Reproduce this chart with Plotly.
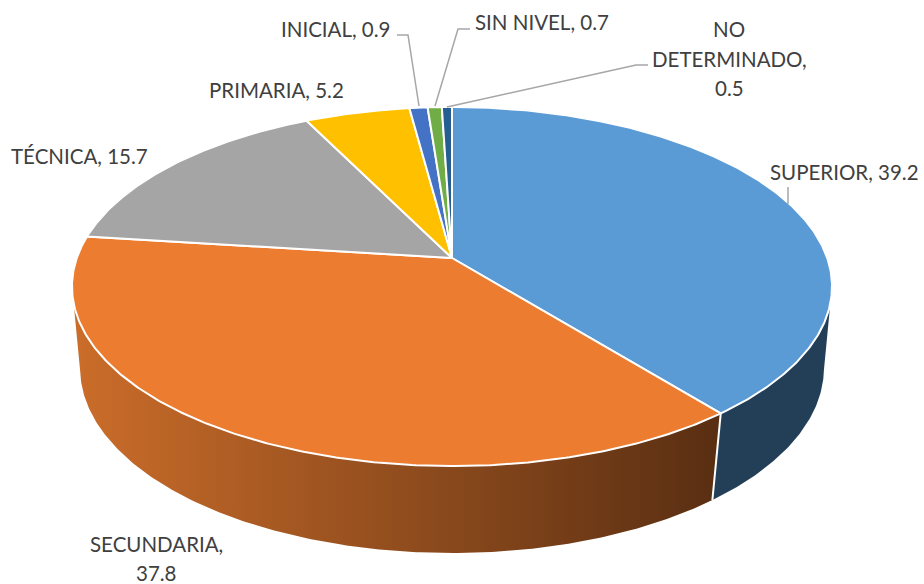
import numpy as np
import plotly.graph_objects as go

categories = ["SUPERIOR", "SECUNDARIA", "TÉCNICA", "PRIMARIA", "INICIAL", "SIN NIVEL", "NO DETERMINADO"]
values = [39.2, 37.8, 15.7, 5.2, 0.9, 0.7, 0.5]
colors = ["#5B9BD5", "#EC7C30", "#A5A5A5", "#FFC000", "#4472C4", "#70AD47", "#255E91"]

W, H = 924, 584
CX, CY = 452, 258
TOP = dict(a=375.2, b=175.0, k=0.1588, y0=CY)
BOT = dict(a=368.0, b=181.1, k=0.145, y0=341.2)


def rim(theta_deg, p):
    t = np.radians(np.asarray(theta_deg, dtype=float))
    u, v = np.sin(t), -np.cos(t)
    w = 1 - p["k"] * v
    return CX + p["a"] * u / w, p["y0"] + p["b"] * v / w


def arc(t0, t1):
    return np.linspace(t0, t1, max(int(abs(t1 - t0) * 2), 2) + 1)


edges = np.concatenate([[0], np.cumsum(values)]) * 3.6
fig = go.Figure()

# Side wall of the first two slices
right_t = 99.0
left_t = 261.0
split = edges[1]
xt, yt = rim(arc(right_t, split), TOP)
xb, yb = rim(arc(split, right_t), BOT)
fig.add_trace(go.Scatter(x=np.r_[xt, xb], y=np.r_[yt, yb], mode="lines", fill="toself",
                         fillcolor="#233F58", line=dict(width=0), hoverinfo="skip"))
xt, yt = rim(arc(split, left_t), TOP)
xb, yb = rim(arc(left_t, split), BOT)
fig.add_trace(go.Scatter(x=np.r_[xt, xb], y=np.r_[yt, yb], mode="lines", line=dict(width=0),
                         fill="toself", hoverinfo="skip",
                         fillgradient=dict(type="horizontal",
                                           colorscale=[[0, "#CB6D2A"], [1, "#592E12"]])))
# White seam between the walls
xt, yt = rim([split], TOP)
xb, yb = rim([split], BOT)
fig.add_trace(go.Scatter(x=[xt[0], xb[0]], y=[yt[0], yb[0]], mode="lines",
                         line=dict(color="white", width=2), hoverinfo="skip"))

# Top face
for i, (name, val) in enumerate(zip(categories, values)):
    xs, ys = rim(arc(edges[i], edges[i + 1]), TOP)
    fig.add_trace(go.Scatter(x=np.r_[CX, xs, CX], y=np.r_[CY, ys, CY], mode="lines", fill="toself",
                             fillcolor=colors[i], line=dict(color="white", width=2),
                             name=name, text=f"{name}, {val}", hoverinfo="text"))

# Leader lines
leaders = [
    ([788, 788], [187, 204]),
    ([397, 408, 419], [35, 35, 106]),
    ([470, 458, 435], [29, 29, 106]),
    ([648, 636, 447], [65, 65, 107]),
]
for lx, ly in leaders:
    fig.add_trace(go.Scatter(x=lx, y=ly, mode="lines", line=dict(color="#A6A6A6", width=1.5),
                             hoverinfo="skip"))

label_lines = [
    (f"{categories[0]}, {values[0]}", 844.5, 172),
    (f"{categories[1]},", 156, 544),
    (f"{values[1]}", 156, 573),
    (f"{categories[2]}, {values[2]}", 79.5, 156),
    (f"{categories[3]}, {values[3]}", 276, 90),
    (f"{categories[4]}, {values[4]}", 336, 29),
    (f"{categories[5]}, {values[5]}", 542, 22),
    ("NO", 729, 29),
    ("DETERMINADO,", 729, 59),
    (f"{values[6]}", 729, 88),
]
for text, x, y in label_lines:
    fig.add_annotation(x=x, y=y, text=text, showarrow=False, xanchor="center", yanchor="middle",
                       font=dict(family="Lato, Carlito, Calibri, sans-serif", size=20.5, color="#404040"))

fig.update_layout(
    width=W, height=H, margin=dict(l=0, r=0, t=0, b=0), showlegend=False,
    paper_bgcolor="white", plot_bgcolor="white",
    xaxis=dict(range=[0, W], visible=False, fixedrange=True),
    yaxis=dict(range=[H, 0], visible=False, fixedrange=True),
)
fig.write_html("out.html", config={"displayModeBar": False},
               post_script="document.body.style.margin='0';document.documentElement.style.overflow='hidden';")
